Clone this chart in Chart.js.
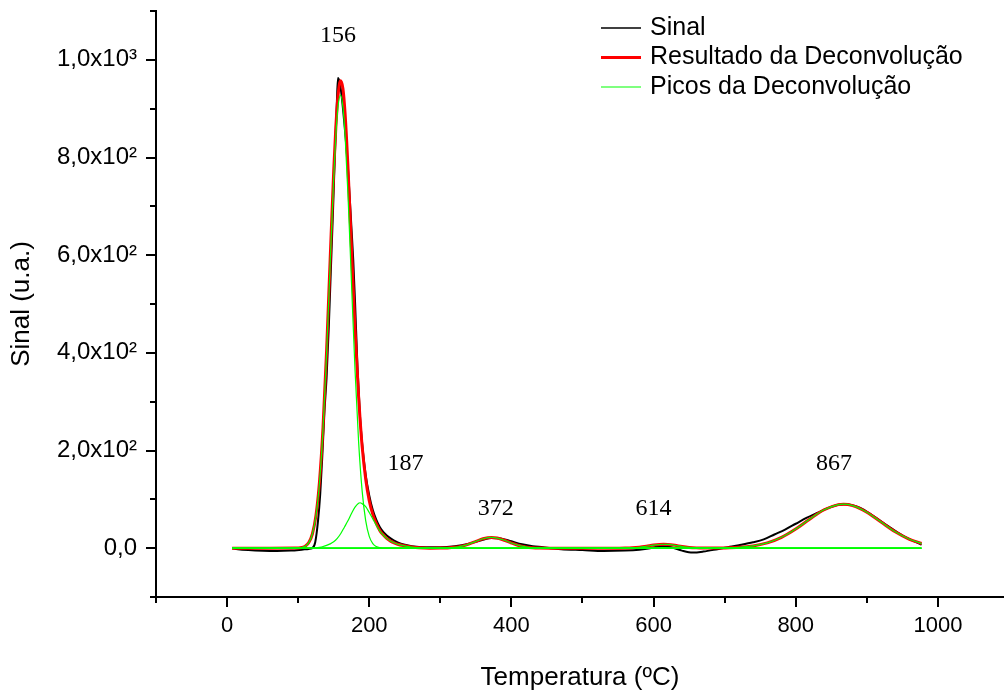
<!DOCTYPE html>
<html>
<head>
<meta charset="utf-8">
<title>Sinal e deconvolução</title>
<script src="https://cdn.jsdelivr.net/npm/chart.js@4.4.1/dist/chart.umd.min.js"></script>
<style>
  html, body { margin: 0; padding: 0; background: #ffffff; }
  #wrap { width: 1004px; height: 696px; }
</style>
</head>
<body>
<div id="wrap"><canvas id="chart" width="1004" height="696"></canvas></div>
<script>
// Measured signal (u.a.) against temperature (ºC)
const signalTemp = [7, 15, 30, 50, 70, 90, 105, 115, 120, 124, 128, 131, 134, 137, 140, 143, 146, 149, 152, 154.5, 156,
  158, 160, 165, 170, 175, 177.5, 180, 183.5, 187, 190, 195, 200, 205, 210, 215, 220, 230, 240, 250, 260, 280,
  300, 320, 340, 360, 372, 385, 400, 415, 430, 445, 455, 470, 500, 530, 560, 580, 595, 612, 625, 640, 655,
  670, 690, 705, 720, 740, 755, 770, 785, 800, 815, 830, 845, 860, 870, 890, 910, 930, 950, 965, 977];
const signalValue = [0, -2, -4, -5.5, -6, -5, -3, -1.5, 0, 12, 57, 110, 190, 280, 350, 450, 570, 690, 820, 915, 963,
  956, 940, 870, 780, 655, 590, 505, 370, 270, 215, 150, 108, 78, 58, 43, 33, 20, 12, 7, 4, 2,
  2, 4, 9, 17, 21, 20, 14, 8, 4, 2, 0, -2, -4, -6, -5, -3, 0, 4, 2, -5, -9,
  -7, -2, 2, 6, 12, 18, 28, 38, 50, 62, 72, 82, 89, 90, 83, 65, 45, 26, 15, 7];

// Sum of the fitted peaks
const fitTemp = [7, 60, 95, 100, 105, 110, 115, 120, 125, 130, 135, 140, 145, 150, 153, 156, 159.5, 163, 166, 170,
  175, 180, 185, 187, 190, 195, 200, 205, 210, 215, 220, 225, 230, 235, 240, 250, 260, 270, 285,
  300, 310, 320, 330, 340, 350, 360, 372, 380, 390, 400, 410, 420, 430, 440, 455, 540,
  550, 560, 570, 580, 590, 600, 614, 620, 630, 640, 650, 660, 670, 685,
  700, 720, 740, 760, 780, 800, 820, 840, 860, 867, 880, 900, 920, 940, 960, 977];
const fitValue = [0, 0, 0.1, 0.35, 1.3, 4.0, 11.4, 29.0, 66.6, 136, 247.8, 404.3, 590.5, 772.4, 861.9, 925.1, 957, 941.1, 890.5, 782.3,
  615.1, 448.7, 310.7, 265.9, 208.4, 141.4, 97.2, 69.3, 50.2, 36, 26.8, 19.5, 14.5, 11, 8, 4.8, 2.4, 0.9, 0,
  0.16, 0.58, 1.7, 4.2, 8.4, 13.9, 19.2, 22, 20.7, 16.2, 10.5, 5.6, 2.5, 0.9, 0.28, 0, 0,
  0.05, 0.21, 0.71, 1.9, 3.9, 6.3, 8, 7.6, 5.8, 3.4, 1.6, 0.6, 0.23, 0.2,
  0.5, 1.7, 4.6, 10.8, 22.2, 39.2, 59.8, 78.6, 89.2, 90, 87.2, 73.6, 53.5, 33.6, 18.2, 9.6];

// Individual fitted peaks
const peak1Temp = [7, 95, 100, 105, 110, 115, 120, 125, 130, 135, 140, 145, 150, 153, 156, 159.5, 163, 166, 170, 175,
  180, 185, 190, 195, 200, 205, 210, 215, 220, 230, 977];
const peak1Value = [0, 0.1, 0.35, 1.3, 4.0, 11.4, 29.0, 65.9, 134.2, 244.4, 398.7, 581.7, 759.4, 844.9, 903.1, 928, 903.1, 844.9, 726.3, 544.1,
  364.7, 218.7, 117.4, 56.4, 24.2, 9.3, 3.2, 1.0, 0.3, 0, 0];

const peak2Temp = [7, 120, 125, 130, 135, 140, 145, 150, 155, 160, 165, 170, 175, 180, 185, 187, 190, 195, 200, 205,
  210, 215, 220, 225, 230, 235, 240, 250, 260, 270, 285, 977];
const peak2Value = [0, 0, 0.7, 1.8, 3.4, 5.6, 8.8, 13, 20, 30, 43, 56, 71, 84, 92, 93, 91, 85, 73, 60,
  47, 35, 26.5, 19.5, 14.5, 11, 8, 4.8, 2.4, 0.9, 0, 0];

const peak3Temp = [7, 280, 290, 300, 310, 320, 330, 340, 350, 360, 372, 380, 390, 400, 410, 420, 430, 440, 455, 977];
const peak3Value = [0, 0, 0.04, 0.16, 0.58, 1.7, 4.2, 8.4, 13.9, 19.2, 22, 20.7, 16.2, 10.5, 5.6, 2.5, 0.9, 0.28, 0, 0];

const peak4Temp = [7, 540, 550, 560, 570, 580, 590, 600, 614, 620, 630, 640, 650, 660, 670, 685, 977];
const peak4Value = [0, 0, 0.05, 0.21, 0.71, 1.9, 3.9, 6.3, 8, 7.6, 5.8, 3.4, 1.6, 0.57, 0.16, 0, 0];

const peak5Temp = [7, 660, 680, 700, 720, 740, 760, 780, 800, 820, 840, 860, 867, 880, 900, 920, 940, 960, 977];
const peak5Value = [0, 0.03, 0.14, 0.5, 1.7, 4.6, 10.8, 22.2, 39.2, 59.8, 78.6, 89.2, 90, 87.2, 73.6, 53.5, 33.6, 18.2, 9.6];

// Peak temperatures (ºC) written over the curves, and where each label sits (ºC, u.a.)
const peakCenters = [156, 187, 372, 614, 867];
const peakLabelAt = [[156, 1049], [251, 173], [378, 81], [600, 80], [854, 172]];

// Axis tick labels
const xTickValues = [0, 200, 400, 600, 800, 1000];
const xTickLabels = ['0', '200', '400', '600', '800', '1000'];
const yTickValues = [0, 200, 400, 600, 800, 1000];
const yTickLabels = ['0,0', '2,0x10\u00B2', '4,0x10\u00B2', '6,0x10\u00B2', '8,0x10\u00B2', '1,0x10\u00B3'];

const seriesNames = ['Sinal', 'Resultado da Deconvolu\u00E7\u00E3o', 'Picos da Deconvolu\u00E7\u00E3o'];

const SANS = '"Liberation Sans", Arial, Helvetica, sans-serif';
const SERIF = '"Liberation Serif", "Times New Roman", serif';

function points(temps, values) {
  return temps.map((t, i) => ({ x: t, y: values[i] }));
}

const peakTemps = [peak1Temp, peak2Temp, peak3Temp, peak4Temp, peak5Temp];
const peakValues = [peak1Value, peak2Value, peak3Value, peak4Value, peak5Value];

const datasets = [];
peakTemps.forEach((t, i) => {
  datasets.push({
    label: seriesNames[2],
    data: points(t, peakValues[i]),
    borderColor: '#00ff00',
    borderWidth: 1.2,
    order: 0
  });
});
datasets.push({
  label: seriesNames[1],
  data: points(fitTemp, fitValue),
  borderColor: '#ff0000',
  borderWidth: 3,
  order: 1
});
datasets.push({
  label: seriesNames[0],
  data: points(signalTemp, signalValue),
  borderColor: '#000000',
  borderWidth: 2,
  order: 2
});

// Outward tick marks: long on labelled values, short in between
const axisTicks = {
  id: 'axisTicks',
  afterDraw(chart) {
    const { ctx, chartArea, scales } = chart;
    const x = scales.x, y = scales.y;
    ctx.save();
    ctx.strokeStyle = '#000';
    ctx.lineWidth = 2;
    ctx.beginPath();
    for (let v = -100; v <= x.max; v += 100) {
      const px = Math.round(x.getPixelForValue(v));
      const len = xTickValues.includes(v) ? 10 : 6;
      ctx.moveTo(px, chartArea.bottom);
      ctx.lineTo(px, chartArea.bottom + len);
    }
    for (let v = -100; v <= y.max; v += 100) {
      const py = Math.round(y.getPixelForValue(v));
      const len = yTickValues.includes(v) ? 10 : 6;
      ctx.moveTo(chartArea.left, py);
      ctx.lineTo(chartArea.left - len, py);
    }
    ctx.stroke();
    ctx.restore();
  }
};

// Peak temperature labels
const peakLabels = {
  id: 'peakLabels',
  afterDatasetsDraw(chart) {
    const { ctx, scales } = chart;
    ctx.save();
    ctx.fillStyle = '#000';
    ctx.font = '24px ' + SERIF;
    ctx.textAlign = 'center';
    ctx.textBaseline = 'middle';
    peakCenters.forEach((c, i) => {
      const [t, v] = peakLabelAt[i];
      ctx.fillText(String(c), scales.x.getPixelForValue(t), scales.y.getPixelForValue(v));
    });
    ctx.restore();
  }
};

// Legend in the upper right corner, one row per series name
const cornerLegend = {
  id: 'cornerLegend',
  afterDraw(chart) {
    const ctx = chart.ctx;
    ctx.save();
    ctx.font = '25px ' + SANS;
    ctx.textAlign = 'left';
    ctx.textBaseline = 'middle';
    seriesNames.forEach((name, i) => {
      const ds = chart.data.datasets.find(d => d.label === name);
      const rowY = 28 + i * 29.5;
      ctx.strokeStyle = ds.borderColor;
      ctx.lineWidth = name === seriesNames[0] ? 1.5 : ds.borderWidth;
      ctx.beginPath();
      ctx.moveTo(601, rowY);
      ctx.lineTo(641, rowY);
      ctx.stroke();
      ctx.fillStyle = '#000';
      ctx.fillText(name, 650, rowY);
    });
    ctx.restore();
  }
};

new Chart(document.getElementById('chart'), {
  type: 'line',
  data: { datasets },
  options: {
    responsive: false,
    animation: false,
    devicePixelRatio: 1,
    layout: { padding: { top: 11, right: 0, bottom: 0, left: 0 } },
    elements: {
      point: { radius: 0, hoverRadius: 0 },
      line: { cubicInterpolationMode: 'monotone', fill: false }
    },
    plugins: {
      legend: { display: false },
      tooltip: { enabled: false }
    },
    scales: {
      x: {
        type: 'linear',
        min: -100,
        max: 1093,
        grid: { display: false, drawTicks: false },
        border: { display: true, color: '#000', width: 2 },
        ticks: {
          autoSkip: false,
          maxRotation: 0,
          padding: 16,
          color: '#000',
          font: { family: SANS, size: 22 },
          callback: v => {
            const i = xTickValues.indexOf(v);
            return i >= 0 ? xTickLabels[i] : null;
          }
        },
        afterBuildTicks: s => { s.ticks = xTickValues.map(v => ({ value: v })); },
        title: {
          display: true,
          text: 'Temperatura (\u00BAC)',
          color: '#000',
          font: { family: SANS, size: 26 },
          padding: { top: 0, bottom: 3 }
        },
        afterFit: s => { s.height = 99; s.paddingLeft = 0; s.paddingRight = 0; }
      },
      y: {
        type: 'linear',
        min: -100,
        max: 1100,
        grid: { display: false, drawTicks: false },
        border: { display: true, color: '#000', width: 2 },
        ticks: {
          autoSkip: false,
          padding: 19,
          color: '#000',
          font: { family: SANS, size: 24 },
          callback: v => {
            const i = yTickValues.indexOf(v);
            return i >= 0 ? yTickLabels[i] : null;
          }
        },
        afterBuildTicks: s => { s.ticks = yTickValues.map(v => ({ value: v })); },
        title: {
          display: true,
          text: 'Sinal (u.a.)',
          color: '#000',
          font: { family: SANS, size: 26 },
          padding: { top: 6, bottom: 0 }
        },
        afterFit: s => { s.width = 156; s.paddingTop = 0; s.paddingBottom = 0; }
      }
    }
  },
  plugins: [axisTicks, peakLabels, cornerLegend]
});
</script>
</body>
</html>
